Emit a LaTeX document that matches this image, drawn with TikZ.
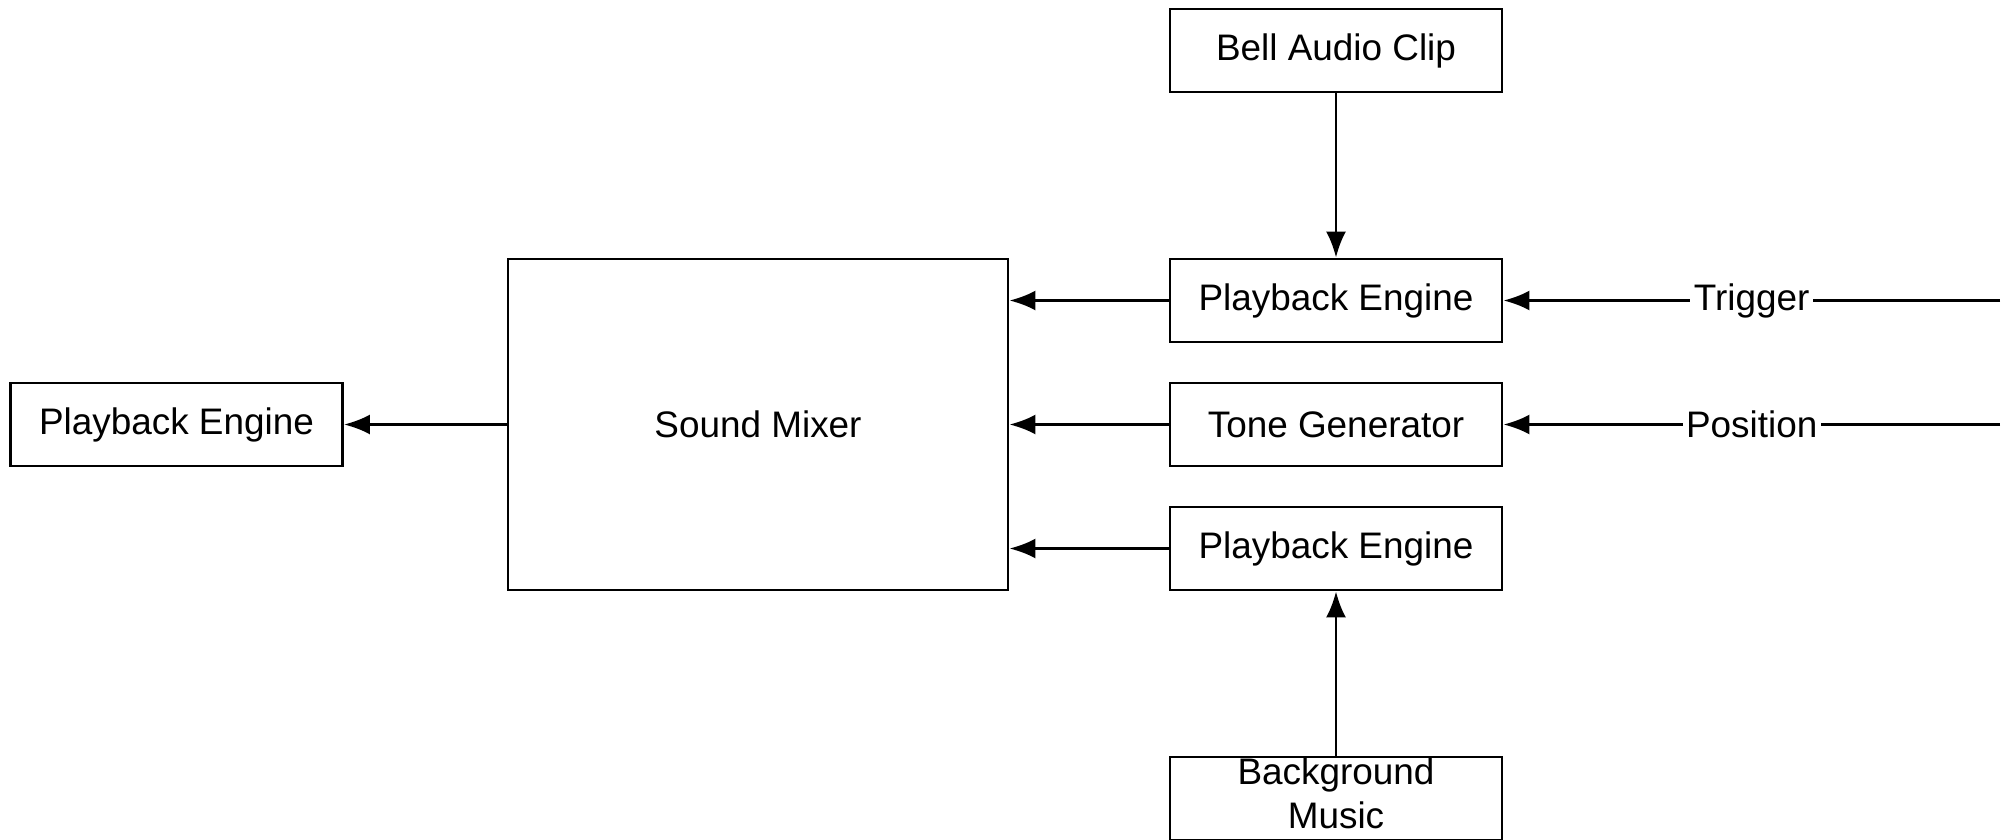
\documentclass[tikz,border=0pt]{standalone}
\usepackage{fontspec}
\setmainfont{Liberation Sans}
\usetikzlibrary{arrows.meta}

\begin{document}
\begin{tikzpicture}[
		x=1cm, y=1cm,
		blocknode/.style={shape=rectangle, align=center, draw=black, line width=0.8pt, minimum width=3.32cm, minimum height=0.83cm, inner ysep=0pt, font=\fontsize{10.5}{12.5}\selectfont},
		mixernode/.style={blocknode, minimum width=5cm, minimum height=3.31cm},
		signal label/.style={fill=white, inner xsep=1pt, font=\fontsize{10.5}{12.5}\selectfont},
		flow/.style={draw=black, line width=0.8pt, -{Latex[length=2.6mm, width=2mm]}}
		]
		\useasboundingbox (0,0) rectangle (20.08,8.39);
		% sources and engines
		\node[blocknode] (bell) at (13.36,7.885) {Bell Audio Clip};
		\node[blocknode] (pbtop) at (13.36,5.385) {Playback Engine};
		\node[blocknode] (tone) at (13.36,4.145) {Tone Generator};
		\node[blocknode] (pbbot) at (13.36,2.905) {Playback Engine};
		\node[blocknode, text depth=0.1cm] (bgmusic) at (13.36,0.405) {Background\\Music};
		\node[mixernode] (mixer) at (7.58,4.145) {Sound Mixer};
		\node[blocknode] (pbout) at (1.765,4.145) {Playback Engine};
		\coordinate (trigin) at (20.00,5.385);
		\coordinate (posin) at (20.00,4.145);
		% connectors
		\draw[flow] (bell) -- (pbtop);
		\draw[flow] (bgmusic) -- (pbbot);
		\draw[flow] (trigin) -- node[signal label] {Trigger} (pbtop);
		\draw[flow] (posin) -- node[signal label] {Position} (tone);
		\draw[flow] (pbtop.west) -- (pbtop.west -| mixer.east);
		\draw[flow] (tone.west) -- (tone.west -| mixer.east);
		\draw[flow] (pbbot.west) -- (pbbot.west -| mixer.east);
		\draw[flow] (mixer) -- (pbout);
	\end{tikzpicture}
\end{document}
